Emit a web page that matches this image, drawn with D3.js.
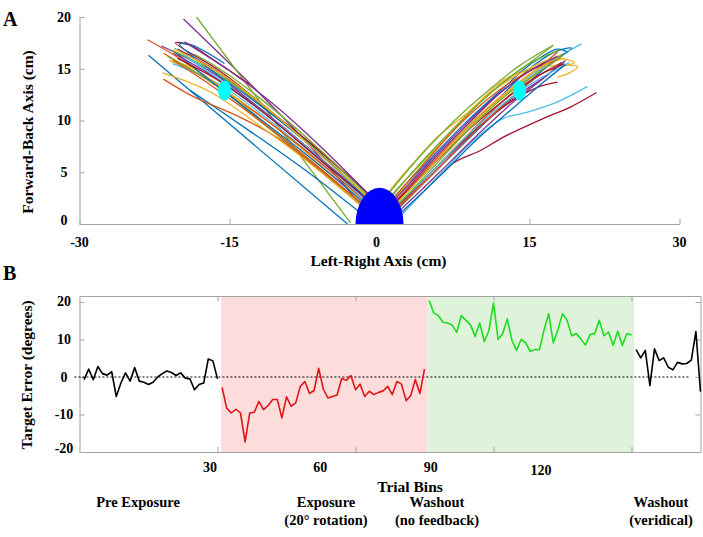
<!DOCTYPE html>
<html><head><meta charset="utf-8">
<script src="https://cdn.jsdelivr.net/npm/d3@7"></script>
<style>
body{margin:0;background:#fff;}
svg text{font-family:"Liberation Serif","Times New Roman",serif;font-weight:bold;fill:#000;}
</style></head><body>
<svg id="chart" width="703" height="537"></svg>
<script>
// ---------- DATA ----------
// Panel A: reach trajectories (cm)
const xTicksA = [-30, -15, 0, 15, 30];
const yTicksA = [0, 5, 10, 15, 20];
const palette = ['#0072BD','#D95319','#EDB120','#7E2F8E','#77AC30','#4DBEEE','#A2142F'];
const leftPaths = [
  [[-3.2,0],[-23.1,16.3]],
  [[-1.5,1.5],[-6,5.2],[-11,9.3],[-16,13.2],[-20,16],[-23.2,17.8]],
  [[-1.4,2],[-6,5.8],[-11,9.8],[-16.5,13.6],[-21,15.8]],
  [[-1.8,1.8],[-7.2,7.8],[-13,13.6],[-19.6,19.8]],
  [[-2.9,0.1],[-18.3,20.0]],
  [[-1.3,2.2],[-6.5,6.4],[-11,10],[-16,13.5],[-20.7,15.5]],
  [[-1,2.8],[-6.5,7.5],[-11.5,11.2],[-16,14.6],[-20.2,16.9]],
  [[-1.8,1],[-7,4.9],[-13,9.0],[-18.9,12.9]],
  [[-1.2,2],[-6.5,6.4],[-12,10.5],[-17,13.8],[-21.6,16.5]],
  [[-1.5,1.8],[-6.3,5.6],[-10.8,9.2],[-15.5,13],[-19,15.2],[-21,15.8]],
  [[-1.3,2.4],[-6.8,6.9],[-12,11.2],[-17,14.8],[-21.8,17.2]],
  [[-1.6,1.6],[-6.4,5.6],[-11.5,9.6],[-16.5,13.5],[-21.2,16.2]],
  [[-1.1,2.5],[-6,6.4],[-10.8,10.2],[-15.5,13.6],[-19.5,16.2]],
  [[-1,2.8],[-6.2,7.2],[-11,11],[-16,14.8],[-20.4,17.5],[-19,17.3],[-16.5,15.8],[-13,13.5]],
  [[-1.5,2],[-6.8,6.3],[-12,10.2],[-17.5,14.3],[-20.4,16.6]],
  [[-1.5,1.8],[-6.2,5.4],[-10,8.2],[-13.9,10.3],[-18.6,12.3],[-21.6,14]],
  [[-1.6,1.6],[-7,5.9],[-12,9.5],[-17,12.8],[-21.7,14.6]],
  [[-1.3,2.4],[-6.2,6.6],[-11.5,10.8],[-16.5,14.2],[-20.6,16.5]],
  [[-1.2,2.6],[-6.4,7.2],[-11.5,11.3],[-16.5,14.7],[-20.8,16.8]],
  [[-1.4,2.2],[-6.5,6.8],[-11.5,10.7],[-16.8,14.5],[-20.5,17]],
  [[-1.2,2.4],[-6.3,6.5],[-11,10.3],[-16,13.8],[-20.2,16]],
  [[-1.3,2.5],[-6.6,7.3],[-12,11.5],[-17,15],[-20,17.4],[-18.8,17.3],[-15.5,15.5]],
  [[-1.6,1.8],[-6.7,6],[-12,10],[-17,13.5],[-20.6,15.8]],
  [[-1.2,2.6],[-6.3,7],[-11,11],[-16,14.6],[-20.5,16.9]],
  [[-1,2.8],[-5.8,7.4],[-10.5,11.5],[-15,14.8],[-19.5,17.6]],
  [[-1.1,2.7],[-6.2,7.4],[-11.5,11.8],[-16,15],[-18.5,16.4]]
];
const rightPaths = [
  [[1.2,1.5],[4.8,5.2],[8.5,9],[12,12.2],[15,15],[17.5,16.6],[18.8,17],[19.2,17],[18.5,16.4]],
  [[1.5,1.2],[5.2,5],[9,8.8],[12.5,12],[15.5,14.4],[18,16]],
  [[0.5,2.5],[1.5,3.8],[3.5,6],[5.8,8.4],[9.1,11.0],[12.4,13.9],[14.8,14.9],[17.5,15.3],[19.8,15.2],[19,14.6],[17.8,14.2]],
  [[1.3,1.8],[4.8,5.6],[8.5,9.3],[12,12.6],[15,14.8],[17.8,16.2]],
  [[1,2.6],[4.5,6.2],[8,9.8],[11.5,13],[14.5,15.2],[17.3,17.2]],
  [[1.4,1.6],[5,5.4],[9,9.4],[12.5,12.5],[15.5,14.6],[18,16.2],[20.2,17.4]],
  [[1.8,0.5],[4.5,3.2],[7.4,5.9],[10.1,7.1],[12.4,8.4],[16.4,10.2],[19.1,11.3],[21.7,12.7]],
  [[1.6,1.2],[5.5,5],[9.5,8.8],[13,12],[16,14.6],[18.5,16.5]],
  [[1.2,1.8],[5,5.6],[9,9.6],[12.8,12.8],[15.5,14.8],[17.8,16.6]],
  [[1.3,1.6],[5.2,5.6],[9.2,9.8],[13,13],[16.2,15.2],[18.4,16]],
  [[1.5,1.4],[5.5,5.3],[9.8,9.2],[13.5,12.2],[16.5,14.2],[18.6,15.8]],
  [[0.8,2.8],[4,6.5],[7.5,10],[11,13],[14,15.3],[17.4,17.3]],
  [[1.9,0.6],[5.5,4.2],[9.1,7.8],[12.4,10.2],[14.8,10.8],[17.8,11.8],[20.8,13.3]],
  [[1.4,1.4],[5.2,5],[9.2,8.8],[12.8,11.6],[15.8,13.2],[17.8,13.7]],
  [[1.1,2.2],[4.6,5.8],[8.4,9.6],[12,12.8],[15.2,15.5],[17.8,16.9],[18.8,16.6]],
  [[1.6,1.3],[5.5,5],[9.6,9],[13.2,12.2],[16.2,14.5],[18.2,15.6]],
  [[1.2,2],[4.2,5.6],[7.6,9.4],[11,12.6],[14.5,14.8],[17.5,16],[19.5,15.6],[18,15.2]],
  [[1.7,1],[5.8,4.8],[9.8,8.6],[13.4,11.8],[16.8,14.4],[18.2,15.6]],
  [[1,2.4],[4.2,6],[7.8,9.6],[11.3,12.8],[14.8,15.4],[18,16.8]],
  [[1.5,1.6],[5.4,5.2],[9.4,9.1],[13,12.1],[16.3,14.2],[19,15.6]],
  [[1.3,1.8],[5,5.4],[8.8,9],[12.5,12],[15.8,14.3],[18.5,15.5]],
  [[1.8,0.8],[6,4.6],[10,8.4],[13.6,11.4],[16.5,13.8],[18.6,15.4]],
  [[1.1,2.2],[4.6,6],[8.2,9.8],[11.8,12.8],[15,14.8],[17.6,15.8]],
  [[1.4,1.6],[5,5.4],[8.8,9.2],[12.4,12.4],[15.6,14.8],[18.2,16.4]],
  [[1.2,2],[4.8,5.8],[8.6,9.6],[12.2,12.8],[15.4,15],[17.8,16.2]],
  [[1.5,1.5],[5.2,5.3],[9,9.2],[12.6,12.4],[15.8,14.6],[18.4,16.3]]
];
const startRadius = [2.4, 3.5];          // start-zone half-ellipse (cm)
const targets = [[-15.5, 12.9], [14.0, 12.9]];
const targetRadius = [0.65, 0.97];

// Panel B: target error per trial bin (degrees)
const xTicksB = [30, 60, 90, 120];
const yTicksB = [20, 10, 0, -10, -20];
const preExposure = [-0.7,2.1,-0.7,2.8,0.9,0.5,1.4,-5.2,-1.6,1.1,-1.1,2.5,-1.1,-1.4,-2.0,-1.4,0,0.9,1.6,1.2,0.4,1.1,-0.3,-0.5,-3.4,-2.0,-1.6,4.8,4.3,-0.5];
const exposure = [-2.8,-8.3,-9.6,-8.6,-9.6,-17.3,-9.6,-9.4,-6.5,-8.7,-7.6,-6.0,-6.0,-10.9,-5.3,-7.8,-6.9,-2.5,-1.2,-4.4,-3.6,2.3,-3.2,-5.6,-5.2,-4.8,-0.4,-0.9,0.4,-3.4,-1.9,-5.2,-3.8,-4.7,-4.1,-3.7,-2.5,-4.7,-1.2,-1.9,-6.3,-5.0,-0.7,-4.4,2.1];
const washoutNoFb = [20.4,17.1,16.4,14.6,14.4,13.9,11.9,16.4,15.1,13.9,10.8,14.4,9.4,12.4,19.7,10.0,11.6,15.5,9.8,7.1,10.0,9.1,6.8,7.3,7.3,12.6,16.9,9.1,12.6,16.9,15.1,11.0,11.6,10.1,8.5,11.3,11.6,15.1,11.0,12.0,8.5,12.2,8.4,11.6,11.2];
const washoutVer = [7.3,5.1,7.1,-2.3,7.5,4.4,5.1,2.6,1.9,3.9,3.5,3.6,4.5,12.1,-3.9];
const phaseSpans = [[30.8, 75.6], [75.6, 120.6]];
const zeroLineExtent = [-1.1, 132.4];
const phaseNames = [["Pre Exposure"], ["Exposure", "(20\u00B0 rotation)"], ["Washout", "(no feedback)"], ["Washout", "(veridical)"]];

// ---------- DRAW ----------
const svg = d3.select('#chart');
const axisCol = '#a3a3a3';

// ===== Panel A =====
const xA = d3.scaleLinear().domain([-30, 30]).range([79.5, 679.5]);
const yA = d3.scaleLinear().domain([0, 20]).range([224, 17]);
const gA = svg.append('g');

const axA_x = gA.append('g').attr('transform', `translate(0,${yA(0)})`)
  .call(d3.axisBottom(xA).tickValues(xTicksA).tickSizeInner(-5).tickSizeOuter(0).tickFormat(''));
const axA_y = gA.append('g').attr('transform', `translate(${xA(-30)},0)`)
  .call(d3.axisLeft(yA).tickValues(yTicksA).tickSizeInner(-5).tickSizeOuter(0).tickFormat(''));
[axA_x, axA_y].forEach(a => { a.selectAll('path,line').attr('stroke', axisCol); });

gA.selectAll('.xlabA').data(xTicksA).join('text')
  .attr('x', d => xA(d) - (d === 0 ? 3 : 0)).attr('y', 242).attr('dy', '0.35em')
  .attr('text-anchor', 'middle').attr('font-size', 14).text(d => d);
gA.selectAll('.ylabA').data(yTicksA).join('text')
  .attr('x', 64).attr('y', d => yA(d) - (d === 0 ? 4 : 0)).attr('dy', '0.35em')
  .attr('text-anchor', 'middle').attr('font-size', 14).text(d => d);

const lineA = d3.line().x(d => xA(d[0])).y(d => yA(d[1])).curve(d3.curveCatmullRom.alpha(0.5));
const allPaths = [];
leftPaths.forEach((p, i) => allPaths.push({p, c: palette[i % 7]}));
rightPaths.forEach((p, i) => allPaths.push({p, c: palette[i % 7]}));
gA.append('g').selectAll('path').data(allPaths).join('path')
  .attr('d', d => lineA(d.p)).attr('fill', 'none').attr('stroke', d => d.c).attr('stroke-width', 1.3);

const rx = xA(startRadius[0]) - xA(0), ry = yA(0) - yA(startRadius[1]);
gA.append('path')
  .attr('d', `M${xA(0) - rx},${yA(0)} A${rx},${ry} 0 0 1 ${xA(0) + rx},${yA(0)} Z`)
  .attr('fill', '#0000ff');
gA.selectAll('ellipse').data(targets).join('ellipse')
  .attr('cx', d => xA(d[0])).attr('cy', d => yA(d[1]))
  .attr('rx', xA(targetRadius[0]) - xA(0)).attr('ry', yA(0) - yA(targetRadius[1]))
  .attr('fill', '#00ffff');

gA.append('text').attr('x', xA(0) - 1).attr('y', 266).attr('text-anchor', 'middle')
  .attr('font-size', 15.5).text('Left-Right Axis (cm)');
gA.append('text').attr('transform', 'translate(33,132) rotate(-90)').attr('text-anchor', 'middle')
  .attr('font-size', 15.5).text('Forward-Back Axis (cm)');
svg.append('text').attr('x', 3).attr('y', 26).attr('font-size', 20).text('A');

// ===== Panel B =====
const xB = d3.scaleLinear().domain([0, 135]).range([79.5, 700.5]);
const yB = d3.scaleLinear().domain([-20, 21.6]).range([452, 296]);
const xLab = d3.scaleLinear().domain([30, 120]).range([210, 541]);
const gB = svg.append('g');

const shade = ['#fddcdc', '#dff3da'];
gB.selectAll('rect').data(phaseSpans).join('rect')
  .attr('x', d => xB(d[0])).attr('width', d => xB(d[1]) - xB(d[0]))
  .attr('y', yB(21.6)).attr('height', yB(-20) - yB(21.6))
  .attr('fill', (d, i) => shade[i]);

const axB = [
  gB.append('g').attr('transform', `translate(0,${yB(-20)})`).call(d3.axisBottom(xB).tickValues(xTicksB).tickSizeInner(-5).tickSizeOuter(0).tickFormat('')),
  gB.append('g').attr('transform', `translate(0,${yB(21.6)})`).call(d3.axisTop(xB).tickValues(xTicksB).tickSizeInner(-5).tickSizeOuter(0).tickFormat('')),
  gB.append('g').attr('transform', `translate(${xB(0)},0)`).call(d3.axisLeft(yB).tickValues(yTicksB).tickSizeInner(-5).tickSizeOuter(0).tickFormat('')),
  gB.append('g').attr('transform', `translate(${xB(135)},0)`).call(d3.axisRight(yB).tickValues(yTicksB).tickSizeInner(-5).tickSizeOuter(0).tickFormat(''))
];
axB.forEach(a => a.selectAll('path,line').attr('stroke', axisCol));

gB.selectAll('.ylabB').data(yTicksB).join('text')
  .attr('x', 64).attr('y', d => yB(d) + (d === 20 ? -1 : d === -20 ? -4 : 0)).attr('dy', '0.35em')
  .attr('text-anchor', 'middle').attr('font-size', 14).text(d => d);
gB.selectAll('.xlabB').data(xTicksB).join('text')
  .attr('x', d => xLab(d)).attr('y', d => d === 120 ? 470 : 467).attr('dy', '0.35em')
  .attr('text-anchor', 'middle').attr('font-size', 14).text(d => d);

gB.append('line').attr('x1', xB(zeroLineExtent[0])).attr('x2', xB(zeroLineExtent[1]))
  .attr('y1', yB(0)).attr('y2', yB(0)).attr('stroke', '#000').attr('stroke-width', 1)
  .attr('stroke-dasharray', '2,2');

const lineB = d3.line().x(d => xB(d[0])).y(d => yB(d[1]));
const series = [
  {vals: preExposure, start: 1, col: '#000000'},
  {vals: exposure, start: 31, col: '#e01515'},
  {vals: washoutNoFb, start: 76, col: '#1fdc1f'},
  {vals: washoutVer, start: 121, col: '#000000'}
];
gB.selectAll('.ser').data(series).join('path')
  .attr('d', s => lineB(s.vals.map((v, i) => [s.start + i, v])))
  .attr('fill', 'none').attr('stroke', s => s.col).attr('stroke-width', 1.6).attr('stroke-linejoin', 'round');

gB.append('text').attr('x', 410).attr('y', 492).attr('text-anchor', 'middle')
  .attr('font-size', 15.5).text('Trial Bins');
gB.append('text').attr('transform', 'translate(32,375) rotate(-90)').attr('text-anchor', 'middle')
  .attr('font-size', 15.5).text('Target Error (degrees)');
svg.append('text').attr('x', 3).attr('y', 280).attr('font-size', 20).text('B');

const phaseX = [138, 326, 437, 661];
phaseNames.forEach((lines, i) => {
  lines.forEach((t, j) => {
    gB.append('text').attr('x', phaseX[i]).attr('y', 507 + j * 18).attr('text-anchor', 'middle')
      .attr('font-size', 14.5).text(t);
  });
});
</script>
</body></html>
